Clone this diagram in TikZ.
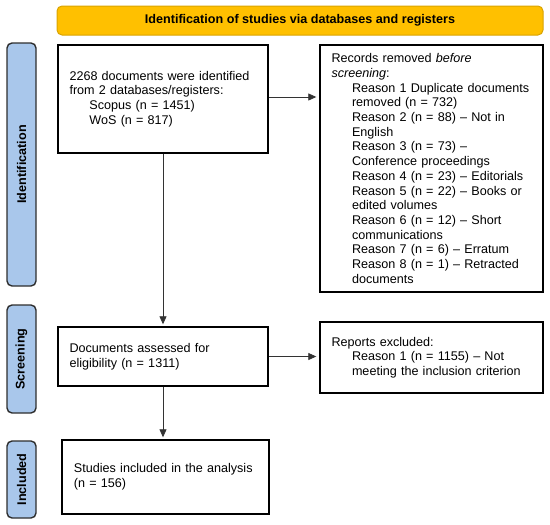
\documentclass[tikz,border=0pt]{standalone}
\usepackage{fontspec}
\setmainfont{Liberation Sans}
\usetikzlibrary{arrows.meta}
\definecolor{orangebar}{HTML}{FFC000}
\definecolor{orangeedge}{HTML}{D9A300}
\definecolor{bluebar}{HTML}{A9C7EB}
\definecolor{blueedge}{HTML}{2E2E2E}
\begin{document}
\begin{tikzpicture}[x=1pt,y=-1pt,
  font=\fontsize{12.6}{14.7}\selectfont,
  box/.style={draw=black, line width=1.4pt, fill=white, align=left,
    inner xsep=11.5pt, inner ysep=0pt, anchor=center},
  side/.style={draw=blueedge, fill=bluebar, line width=1.4pt,
    rounded corners=5pt, minimum height=29pt, inner sep=0pt,
    anchor=center, rotate=90, font=\fontsize{12.6}{14.7}\selectfont\bfseries},
  topbar/.style={draw=orangeedge, fill=orangebar, line width=1pt,
    rounded corners=5pt, inner sep=0pt, anchor=center,
    font=\fontsize{12.6}{14.7}\selectfont\bfseries},
  arr/.style={line width=0.8pt, draw=black!80,
    -{Triangle[length=8pt,width=7pt]}}]
\useasboundingbox (0,0) rectangle (550,525);

\node[topbar, minimum width=486pt, minimum height=29pt] (title) at (300,20.5)
  {Identification of studies via databases and registers};

\node[side, minimum width=243pt] (sid) at (21.5,164.5) {Identification};
\node[side, minimum width=108pt] (ssc) at (21.5,359) {Screening};
\node[side, minimum width=77pt] (sin) at (21.5,479.5) {Included};

\node[box, minimum width=210pt, minimum height=108pt, text width=187pt]
  (b1) at (163,99)
  {2268 documents were identified\\
   from 2 databases/registers:\\
   \hspace*{20pt}Scopus (n = 1451)\\
   \hspace*{20pt}WoS (n = 817)};

\node[box, minimum width=223pt, minimum height=247pt, text width=200pt]
  (b2) at (431.5,168.5)
  {Records removed \textit{before}\\
   \textit{screening}:\\
   \hspace*{20.5pt}Reason 1 Duplicate documents\\
   \hspace*{20.5pt}removed (n = 732)\\
   \hspace*{20.5pt}Reason 2 (n = 88) – Not in\\
   \hspace*{20.5pt}English\\
   \hspace*{20.5pt}Reason 3 (n = 73) –\\
   \hspace*{20.5pt}Conference proceedings\\
   \hspace*{20.5pt}Reason 4 (n = 23) – Editorials\\
   \hspace*{20.5pt}Reason 5 (n = 22) – Books or\\
   \hspace*{20.5pt}edited volumes\\
   \hspace*{20.5pt}Reason 6 (n = 12) – Short\\
   \hspace*{20.5pt}communications\\
   \hspace*{20.5pt}Reason 7 (n = 6) – Erratum\\
   \hspace*{20.5pt}Reason 8 (n = 1) – Retracted\\
   \hspace*{20.5pt}documents};

\node[box, minimum width=210pt, minimum height=59pt, text width=187pt]
  (b3) at (163,356.5)
  {Documents assessed for\\
   eligibility (n = 1311)};

\node[box, minimum width=223pt, minimum height=71pt, text width=200pt]
  (b4) at (431.5,357.5)
  {Reports excluded:\\
   \hspace*{20.5pt}Reason 1 (n = 1155) – Not\\
   \hspace*{20.5pt}meeting the inclusion criterion};

\node[box, minimum width=207pt, minimum height=74pt, text width=183pt]
  (b5) at (165.5,477)
  {Studies included in the analysis\\
   (n = 156)};

\draw[arr, shorten >=3pt] ([yshift=2pt]b1.east) -- ([yshift=2pt]b1.east -| b2.west);
\draw[arr, shorten >=2pt] (b1.south) -- (b1.south |- b3.north);
\draw[arr, shorten >=3pt] (b3.east) -- (b3.east -| b4.west);
\draw[arr, shorten >=2pt] (b3.south) -- (b3.south |- b5.north);
\end{tikzpicture}
\end{document}
